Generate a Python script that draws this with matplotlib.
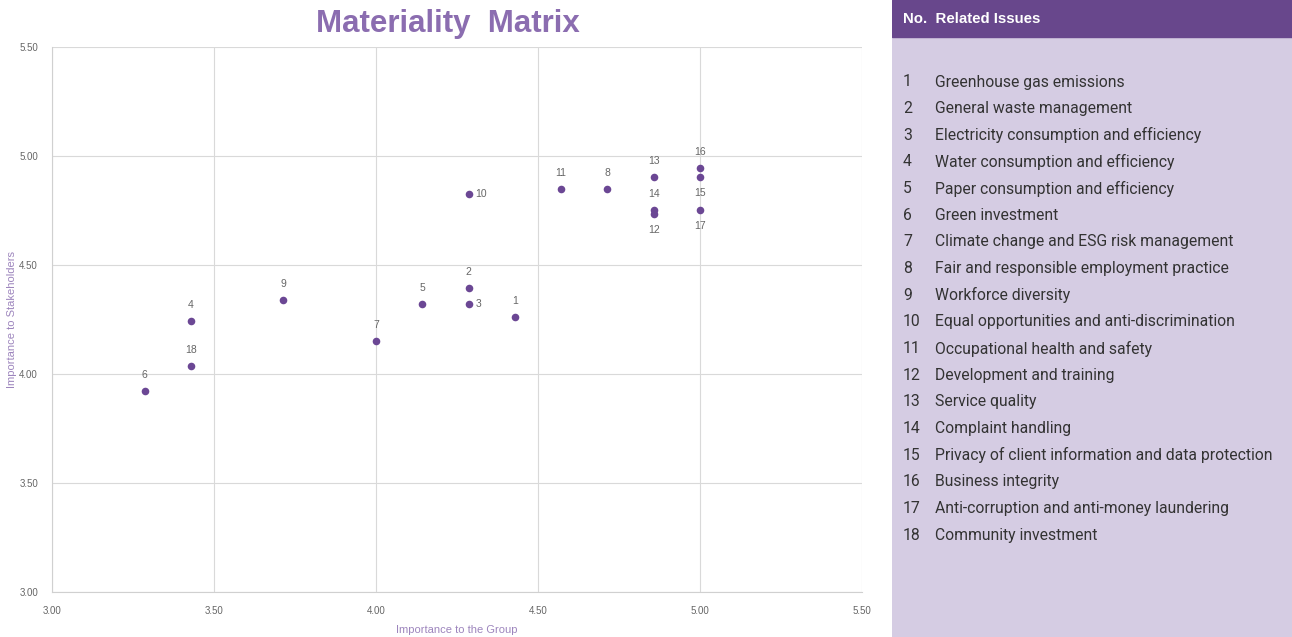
import matplotlib.pyplot as plt

# issue scores
issue_no = list(range(1, 19))
issue_names = [
    'Greenhouse gas emissions',
    'General waste management',
    'Electricity consumption and efficiency',
    'Water consumption and efficiency',
    'Paper consumption and efficiency',
    'Green investment',
    'Climate change and ESG risk management',
    'Fair and responsible employment practice',
    'Workforce diversity',
    'Equal opportunities and anti-discrimination',
    'Occupational health and safety',
    'Development and training',
    'Service quality',
    'Complaint handling',
    'Privacy of client information and data protection',
    'Business integrity',
    'Anti-corruption and anti-money laundering',
    'Community investment',
]
group_score = [4.429, 4.286, 4.286, 3.429, 4.143, 3.286, 4.0, 4.714, 3.714,
               4.286, 4.571, 4.857, 4.857, 4.857, 5.0, 5.0, 5.0, 3.429]
stakeholder_score = [4.261, 4.394, 4.321, 4.243, 4.321, 3.922, 4.151, 4.849, 4.339,
                     4.826, 4.849, 4.734, 4.904, 4.752, 4.904, 4.945, 4.752, 4.037]
# where each number label sits relative to its dot
label_pos = ['above', 'above', 'right', 'above', 'above', 'above', 'above', 'above', 'above',
             'right', 'above', 'below', 'above', 'above', 'below', 'above', 'below', 'above']
ticks = [3.0, 3.5, 4.0, 4.5, 5.0, 5.5]

purple = '#6b4794'
light_purple = '#9d85bd'
grey = '#666666'

fig = plt.figure(figsize=(12.92, 6.37), dpi=100)
plt.rcParams['font.family'] = ['Liberation Sans', 'DejaVu Sans']

ax = fig.add_axes([0.0402, 0.0706, 0.6270, 0.8556])
ax.scatter(group_score, stakeholder_score, s=30, color=purple, zorder=3, linewidths=0)
for n, x, y, pos in zip(issue_no, group_score, stakeholder_score, label_pos):
    if pos == 'above':
        ax.annotate(str(n), (x, y), xytext=(0, 8), textcoords='offset points',
                    ha='center', va='bottom', fontsize=7.5, color=grey)
    elif pos == 'below':
        ax.annotate(str(n), (x, y), xytext=(0, -8), textcoords='offset points',
                    ha='center', va='top', fontsize=7.5, color=grey)
    else:
        ax.annotate(str(n), (x, y), xytext=(5, 0), textcoords='offset points',
                    ha='left', va='center', fontsize=7.5, color=grey)

ax.set_xlim(3.0, 5.5)
ax.set_ylim(3.0, 5.5)
ax.set_xticks(ticks)
ax.set_yticks(ticks)
ax.set_xticklabels([f'{t:.2f}' for t in ticks])
ax.set_yticklabels([f'{t:.2f}' for t in ticks])
ax.tick_params(length=0, labelsize=7, colors=grey, pad=10)
ax.grid(True, color='#d9d9d9', linewidth=0.8)
ax.set_axisbelow(True)
for side in ['top', 'right']:
    ax.spines[side].set_visible(False)
for side in ['left', 'bottom']:
    ax.spines[side].set_color('#d0d0d0')
ax.set_xlabel('Importance to the Group', fontsize=8, color=light_purple)
ax.set_ylabel('Importance to Stakeholders', fontsize=8, color=light_purple)
ax.xaxis.set_label_coords(0.5, -0.06)
ax.yaxis.set_label_coords(-0.043, 0.5)
fig.text(0.347, 0.963, 'Materiality  Matrix', ha='center', va='center',
         fontsize=22.5, fontweight='bold', color='#8b6db0')

# right hand legend table
panel = fig.add_axes([892 / 1292, 0, 400 / 1292, 1])
panel.set_xlim(0, 400)
panel.set_ylim(637, 0)
panel.axis('off')
panel.add_patch(plt.Rectangle((0, 0), 400, 637, color='#d5cce3', zorder=0))
panel.add_patch(plt.Rectangle((0, 0), 400, 37, color='#68478c', zorder=1))
panel.text(11, 19, 'No.  Related Issues', ha='left', va='center', fontsize=10.8,
           fontweight='bold', color='white', zorder=2)
for i, (n, name) in enumerate(zip(issue_no, issue_names)):
    yy = 82 + i * 26.65
    panel.text(11, yy, str(n), ha='left', va='center', fontsize=11.3,
               color='#333333', family=['Roboto', 'DejaVu Sans'])
    panel.text(43, yy, name, ha='left', va='center', fontsize=11.3,
               color='#333333', family=['Roboto', 'DejaVu Sans'])

fig.savefig('out.png', dpi=100)
